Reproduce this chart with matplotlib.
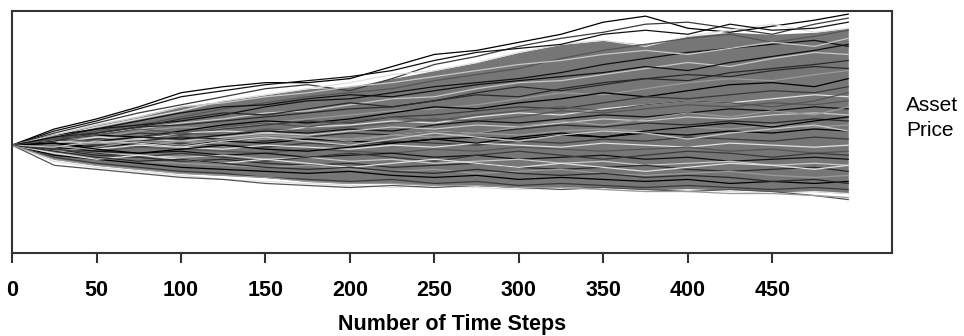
# Monte Carlo asset price paths

import numpy as np
import matplotlib
matplotlib.use("Agg")
import matplotlib.pyplot as plt

steps = [0, 25, 50, 75, 100, 125, 150, 175, 200, 225, 250,
         275, 300, 325, 350, 375, 400, 425, 450, 475, 495]

paths = [
    [100, 108, 113, 119, 126, 129, 131, 131, 133, 139, 145, 147, 151, 155, 161, 164, 158, 156, 159, 162, 165],
    [100, 106, 111, 116, 120, 124, 128, 130, 127, 133, 140, 144, 149, 153, 156, 160, 161, 158, 155, 160, 163],
    [100, 104, 109, 113, 117, 122, 125, 128, 131, 135, 137, 141, 146, 150, 152, 149, 154, 157, 160, 156, 158],
    [100, 103, 107, 110, 114, 118, 121, 124, 126, 128, 132, 135, 138, 143, 147, 150, 153, 155, 151, 154, 157],
    [100, 105, 108, 110, 112, 115, 119, 122, 123, 126, 129, 131, 133, 136, 140, 143, 146, 148, 150, 152, 149],
    [100, 102, 106, 108, 111, 113, 116, 117, 120, 123, 124, 128, 131, 132, 135, 138, 141, 139, 143, 146, 145],
    [100, 104, 106, 109, 110, 112, 114, 116, 118, 119, 122, 125, 124, 128, 131, 133, 132, 136, 138, 140, 142],
    [100, 101, 104, 107, 109, 108, 111, 113, 115, 117, 118, 120, 123, 126, 125, 128, 131, 133, 132, 135, 137],
    [100, 103, 105, 104, 107, 110, 112, 111, 113, 116, 119, 118, 121, 123, 126, 124, 127, 130, 131, 129, 133],
    [100, 102, 103, 106, 105, 108, 110, 112, 111, 114, 115, 117, 119, 118, 121, 124, 123, 125, 127, 126, 129],
    [100, 101, 104, 103, 106, 107, 106, 109, 110, 112, 111, 114, 116, 115, 118, 120, 122, 121, 123, 125, 124],
    [100, 103, 102, 104, 106, 105, 108, 107, 109, 111, 113, 112, 114, 117, 116, 118, 120, 119, 121, 120, 122],
    [100, 99, 102, 104, 103, 105, 107, 106, 108, 107, 110, 112, 111, 113, 115, 114, 116, 118, 117, 119, 118],
    [100, 102, 101, 103, 102, 104, 106, 105, 107, 109, 108, 110, 109, 111, 113, 112, 114, 113, 115, 116, 115],
    [100, 101, 100, 102, 104, 103, 102, 104, 106, 105, 107, 106, 108, 110, 109, 111, 110, 112, 111, 113, 112],
    [100, 99, 101, 100, 102, 101, 103, 104, 103, 105, 104, 106, 105, 107, 108, 107, 109, 108, 110, 109, 110],
    [100, 101, 99, 101, 100, 102, 101, 103, 102, 101, 103, 104, 103, 105, 104, 106, 105, 107, 106, 108, 107],
    [100, 98, 100, 99, 101, 100, 99, 101, 100, 102, 101, 100, 102, 101, 103, 102, 104, 103, 102, 104, 103],
    [100, 99, 98, 100, 99, 98, 100, 99, 98, 100, 99, 101, 100, 99, 101, 100, 99, 101, 100, 99, 100],
    [100, 98, 97, 99, 98, 97, 96, 98, 97, 96, 98, 97, 99, 98, 97, 98, 99, 97, 98, 96, 97],
    [100, 99, 97, 96, 97, 95, 96, 94, 95, 96, 94, 95, 93, 94, 95, 93, 94, 92, 93, 94, 93],
    [100, 97, 96, 95, 94, 95, 93, 94, 92, 93, 91, 92, 93, 91, 92, 90, 91, 92, 90, 91, 90],
    [100, 98, 95, 94, 92, 93, 91, 90, 91, 89, 90, 91, 89, 88, 89, 90, 88, 87, 88, 89, 87],
    [100, 96, 94, 92, 91, 90, 89, 90, 88, 87, 88, 86, 87, 88, 86, 85, 86, 87, 85, 84, 85],
    [100, 95, 93, 91, 89, 88, 87, 86, 87, 85, 84, 85, 83, 84, 83, 82, 83, 81, 82, 81, 82],
    [100, 94, 91, 89, 87, 86, 84, 83, 82, 83, 81, 82, 80, 81, 80, 79, 80, 79, 78, 79, 78],
    [100, 92, 89, 87, 85, 83, 82, 81, 80, 79, 80, 79, 78, 79, 78, 77, 78, 77, 76, 77, 76],
    [100, 90, 88, 86, 84, 83, 81, 80, 79, 80, 79, 80, 79, 78, 79, 78, 77, 78, 77, 75, 73],
    [100, 107, 112, 118, 124, 127, 130, 132, 134, 137, 142, 146, 148, 150, 155, 157, 155, 160, 157, 158, 161],
    [100, 105, 110, 114, 119, 121, 124, 126, 129, 131, 134, 137, 140, 142, 145, 147, 145, 148, 151, 149, 153],
    [100, 102, 106, 109, 113, 116, 115, 118, 121, 119, 122, 126, 129, 127, 130, 133, 135, 134, 137, 139, 138],
    [100, 97, 99, 102, 100, 103, 105, 104, 102, 105, 107, 106, 109, 112, 110, 113, 116, 114, 117, 115, 119],
    [100, 101, 98, 96, 98, 100, 98, 97, 99, 101, 103, 101, 104, 106, 104, 107, 109, 111, 109, 112, 114],
    [100, 98, 96, 94, 96, 94, 92, 94, 96, 94, 92, 95, 97, 95, 93, 95, 97, 96, 94, 96, 95],
    [100, 96, 93, 95, 93, 91, 93, 91, 89, 91, 93, 91, 89, 91, 89, 87, 89, 91, 90, 88, 90],
    [100, 103, 105, 108, 106, 109, 111, 109, 112, 114, 112, 115, 117, 119, 117, 120, 122, 121, 119, 122, 126],
    [100, 104, 108, 112, 116, 119, 120, 123, 125, 124, 127, 130, 132, 134, 136, 139, 137, 141, 144, 147, 150],
    [100, 99, 102, 101, 99, 102, 104, 102, 100, 103, 106, 104, 102, 105, 107, 106, 103, 106, 108, 110, 107],
    [100, 97, 94, 92, 93, 91, 89, 88, 89, 87, 86, 88, 86, 85, 86, 84, 85, 84, 82, 83, 81],
    [100, 93, 90, 88, 86, 85, 84, 82, 81, 81, 80, 80, 79, 79, 78, 77, 77, 76, 76, 75, 74],
]

grays = ["#000000", "#3a3a3a", "#e0e0e0", "#555555", "#111111", "#c8c8c8", "#2a2a2a", "#9a9a9a"]

fig = plt.figure(figsize=(9.64, 3.36), dpi=100)
ax = fig.add_axes([0.0125, 0.247, 0.913, 0.720])

# dense core of the fan, leaving the outer few paths over white
band = np.sort(np.array(paths), axis=0)
ax.fill_between(steps, band[2], band[-4], color="#767676", lw=0)
for i, p in enumerate(paths):
    ax.plot(steps, p, color=grays[i % len(grays)], lw=0.9)

ax.set_xlim(0, 521)
ax.set_ylim(46.5, 166.5)
ax.set_xticks(range(0, 451, 50))
ax.set_yticks([])
for s in ax.spines.values():
    s.set_color("#333333")
    s.set_linewidth(1.5)
ax.tick_params(axis="x", direction="out", length=7.2, width=1.5, color="#333333", pad=12)
for lab in ax.get_xticklabels():
    lab.set_fontfamily("Liberation Sans")
    lab.set_fontweight("bold")
    lab.set_fontsize(15.5)

fig.text(452 / 964, 1 - 330 / 336, "Number of Time Steps", ha="center", va="baseline",
         fontsize=15.5, fontweight="bold", family="Liberation Sans")
fig.text(906 / 964, 1 - 118 / 336, "Asset\nPrice", ha="left", va="center",
         fontsize=15, family="Liberation Sans", linespacing=1.35)

fig.savefig("out.png", dpi=100)
